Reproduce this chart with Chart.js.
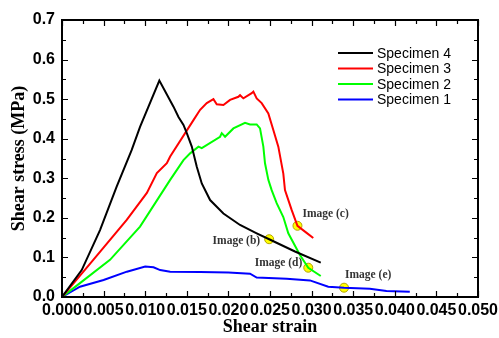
<!DOCTYPE html>
<html>
<head>
<meta charset="utf-8">
<script src="https://cdn.jsdelivr.net/npm/chart.js@4"></script>
<style>
  body { margin: 0; background: #fff; }
</style>
</head>
<body>
<canvas id="chart" width="499" height="338"></canvas>
<script>
// shear strain / shear stress (MPa)
const s4Strain = [0, 0.00237, 0.00457, 0.00657, 0.00837, 0.00938, 0.0117, 0.0134, 0.0140, 0.0146, 0.0150, 0.0156, 0.0162, 0.0168, 0.0178, 0.0194, 0.0214, 0.0234, 0.0249, 0.0280, 0.0311];
const s4Stress = [0, 0.068, 0.169, 0.279, 0.371, 0.430, 0.547, 0.481, 0.455, 0.435, 0.414, 0.380, 0.329, 0.287, 0.245, 0.211, 0.182, 0.161, 0.146, 0.115, 0.087];

const s3Strain = [0, 0.00376, 0.00778, 0.0102, 0.0114, 0.0126, 0.0130, 0.0158, 0.0166, 0.0174, 0.0182, 0.0186, 0.0194, 0.0202, 0.0212, 0.0214, 0.0218, 0.0228, 0.0230, 0.0234, 0.0240, 0.0248, 0.0254, 0.0260, 0.0266, 0.0268, 0.0276, 0.0283, 0.0294, 0.0302];
const s3Stress = [0, 0.094, 0.195, 0.263, 0.313, 0.338, 0.355, 0.447, 0.473, 0.490, 0.500, 0.487, 0.485, 0.498, 0.506, 0.510, 0.502, 0.515, 0.519, 0.502, 0.490, 0.464, 0.422, 0.380, 0.312, 0.270, 0.220, 0.180, 0.162, 0.149];

const s2Strain = [0, 0.00216, 0.00577, 0.00938, 0.0130, 0.0146, 0.0154, 0.0164, 0.0168, 0.0190, 0.0192, 0.0196, 0.0206, 0.0220, 0.0226, 0.0234, 0.0238, 0.0242, 0.0244, 0.0248, 0.0252, 0.0258, 0.0266, 0.0272, 0.0286, 0.0296, 0.0311];
const s2Stress = [0, 0.035, 0.094, 0.178, 0.296, 0.346, 0.363, 0.380, 0.376, 0.405, 0.414, 0.405, 0.426, 0.440, 0.436, 0.436, 0.426, 0.380, 0.338, 0.296, 0.270, 0.237, 0.202, 0.161, 0.106, 0.074, 0.053];

const s1Strain = [0, 0.0010, 0.00216, 0.0050, 0.0078, 0.0100, 0.0110, 0.0118, 0.0130, 0.0166, 0.0200, 0.0226, 0.0234, 0.0270, 0.0298, 0.0320, 0.0339, 0.0370, 0.0390, 0.0418];
const s1Stress = [0, 0.012, 0.026, 0.043, 0.064, 0.077, 0.075, 0.068, 0.064, 0.063, 0.062, 0.059, 0.049, 0.046, 0.042, 0.026, 0.0235, 0.021, 0.015, 0.013];

const imageNames = ['Image (b)', 'Image (c)', 'Image (d)', 'Image (e)'];
const imageStrain = [0.0249, 0.0283, 0.0296, 0.0339];
const imageStress = [0.146, 0.180, 0.074, 0.0235];

const seriesNames = ['Specimen 4', 'Specimen 3', 'Specimen 2', 'Specimen 1'];
const seriesColors = ['#000000', '#ff0000', '#00ff00', '#0000ff'];

const xTickStep = 0.0025, yTickStep = 0.05;

function pts(xs, ys) {
    return xs.map((v, i) => ({ x: v, y: ys[i] }));
}

// label offsets next to the yellow markers
const labelPos = [
    { dx: -9, dy: 2, align: 'right' },
    { dx: 5, dy: -12, align: 'left' },
    { dx: -6, dy: -5, align: 'right' },
    { dx: 1, dy: -13, align: 'left' }
];

const frameTicks = {
    id: 'frameTicks',
    afterDatasetsDraw(chart) {
        const { ctx, chartArea: a, scales: { x, y } } = chart;
        ctx.save();
        ctx.strokeStyle = '#000';
        ctx.lineWidth = 1.2;
        ctx.beginPath();
        x.ticks.forEach(t => {
            const px = Math.round(x.getPixelForValue(t.value)) + 0.5;
            const len = t.label ? 6 : 4;
            ctx.moveTo(px, a.bottom); ctx.lineTo(px, a.bottom - len);
            ctx.moveTo(px, a.top); ctx.lineTo(px, a.top + len);
        });
        y.ticks.forEach(t => {
            const py = Math.round(y.getPixelForValue(t.value)) + 0.5;
            const len = t.label ? 6 : 4;
            ctx.moveTo(a.left, py); ctx.lineTo(a.left + len, py);
            ctx.moveTo(a.right, py); ctx.lineTo(a.right - len, py);
        });
        ctx.stroke();
        ctx.lineWidth = 2;
        ctx.strokeRect(a.left, a.top, a.right - a.left, a.bottom - a.top);

        // marker labels
        ctx.font = 'bold 11.5px "Liberation Serif"';
        ctx.fillStyle = '#333';
        ctx.textBaseline = 'middle';
        imageNames.forEach((name, i) => {
            const px = x.getPixelForValue(imageStrain[i]);
            const py = y.getPixelForValue(imageStress[i]);
            ctx.textAlign = labelPos[i].align;
            ctx.fillText(name, px + labelPos[i].dx, py + labelPos[i].dy);
        });

        // legend
        ctx.font = '14px "Liberation Sans"';
        ctx.textAlign = 'left';
        ctx.fillStyle = '#000';
        ctx.lineWidth = 2;
        seriesNames.forEach((name, i) => {
            const ly = 53 + i * 15.5;
            ctx.strokeStyle = seriesColors[i];
            ctx.beginPath();
            ctx.moveTo(338, ly); ctx.lineTo(373, ly);
            ctx.stroke();
            ctx.fillText(name, 377, ly + 1);
        });
        ctx.restore();
    }
};

const curves = [pts(s4Strain, s4Stress), pts(s3Strain, s3Stress), pts(s2Strain, s2Stress), pts(s1Strain, s1Stress)];

const datasets = curves.map((d, i) => ({
    label: seriesNames[i],
    data: d,
    showLine: true,
    borderColor: seriesColors[i],
    borderWidth: 2,
    pointRadius: 0,
    tension: 0
}));
datasets.push({
    label: 'images',
    data: pts(imageStrain, imageStress),
    showLine: false,
    pointRadius: 4.5,
    backgroundColor: '#ffff00',
    borderColor: '#b3a300',
    pointBackgroundColor: '#ffff00',
    pointBorderColor: '#b3a300',
    pointBorderWidth: 1
});

new Chart(document.getElementById('chart'), {
    type: 'scatter',
    data: { datasets },
    options: {
        responsive: false,
        animation: false,
        layout: { padding: { top: 20, right: 21, left: 0, bottom: 0 } },
        plugins: { legend: { display: false }, tooltip: { enabled: false } },
        scales: {
            x: {
                type: 'linear',
                min: 0,
                max: 0.05,
                grid: { display: false, drawTicks: false },
                border: { display: false },
                ticks: {
                    stepSize: xTickStep,
                    maxTicksLimit: 100,
                    autoSkip: false,
                    maxRotation: 0,
                    padding: 4,
                    color: '#000',
                    font: { family: 'Liberation Sans', size: 16, weight: 'bold' },
                    callback: v => Math.round(v * 10000) % 50 === 0 ? v.toFixed(3) : ''
                },
                title: {
                    display: true,
                    text: 'Shear strain',
                    color: '#000',
                    font: { family: 'Liberation Serif', size: 18, weight: 'bold' },
                    padding: { top: 0, bottom: 0 }
                },
                afterFit(scale) {
                    scale.height = 41;
                    scale.paddingLeft = 0;
                    scale.paddingRight = 0;
                }
            },
            y: {
                min: 0,
                max: 0.7,
                grid: { display: false, drawTicks: false },
                border: { display: false },
                ticks: {
                    stepSize: yTickStep,
                    maxTicksLimit: 100,
                    autoSkip: false,
                    padding: 7,
                    color: '#000',
                    font: { family: 'Liberation Sans', size: 16, weight: 'bold' },
                    callback: v => Math.round(v * 100) % 10 === 0 ? v.toFixed(1) : ''
                },
                title: {
                    display: true,
                    text: 'Shear stress (MPa)',
                    color: '#000',
                    font: { family: 'Liberation Serif', size: 18, weight: 'bold' },
                    padding: { top: 9, bottom: 0 }
                },
                afterFit(scale) {
                    scale.width = 62;
                    scale.paddingTop = 0;
                    scale.paddingBottom = 0;
                }
            }
        }
    },
    plugins: [frameTicks]
});
</script>
</body>
</html>
